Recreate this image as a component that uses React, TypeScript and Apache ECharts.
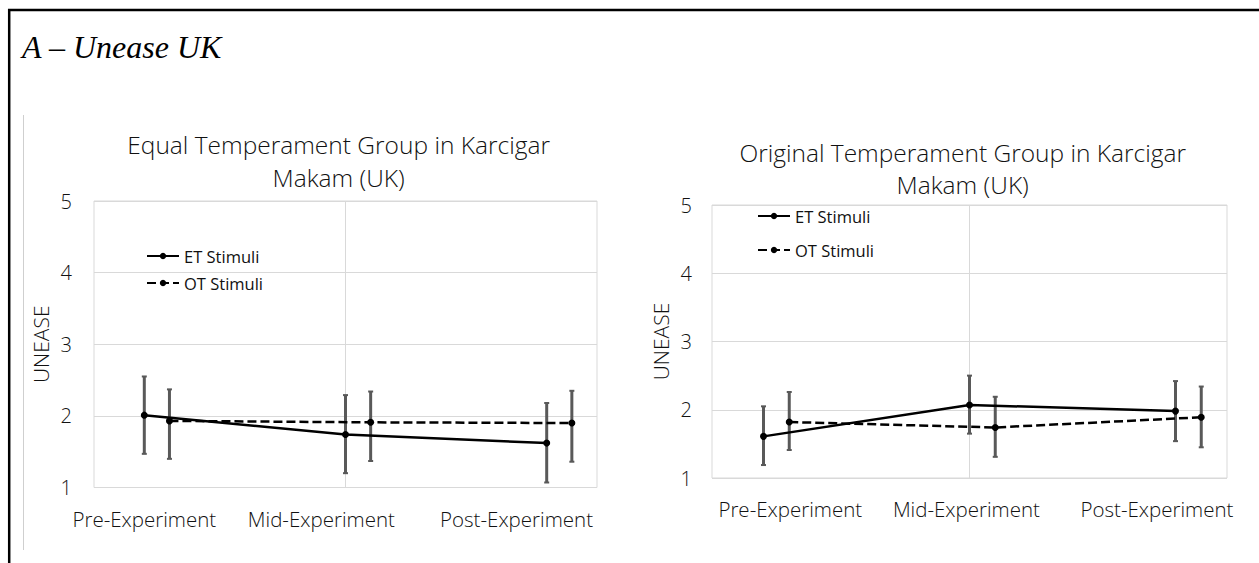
import React, { useEffect, useRef } from 'react';
import * as echarts from 'echarts';

// ---------- data ----------
const categories = ['Pre-Experiment', 'Mid-Experiment', 'Post-Experiment'];
const seriesNames = ['ET Stimuli', 'OT Stimuli'];
const yTicks = [1, 2, 3, 4, 5];
const chartTitles = [
  'Equal Temperament Group in Karcigar\nMakam (UK)',
  'Original Temperament Group in Karcigar\nMakam (UK)',
];
const yAxisName = 'UNEASE';
const panelTitle = 'A \u2013 Unease UK';

// Equal Temperament group
const etMeanEqual = [2.01, 1.74, 1.62];
const etLowEqual = [1.47, 1.2, 1.07];
const etHighEqual = [2.55, 2.29, 2.18];
const otMeanEqual = [1.93, 1.91, 1.9];
const otLowEqual = [1.4, 1.37, 1.36];
const otHighEqual = [2.37, 2.34, 2.35];

// Original Temperament group
const etMeanOrig = [1.61, 2.07, 1.98];
const etLowOrig = [1.19, 1.65, 1.54];
const etHighOrig = [2.05, 2.5, 2.42];
const otMeanOrig = [1.82, 1.74, 1.89];
const otLowOrig = [1.41, 1.31, 1.45];
const otHighOrig = [2.26, 2.19, 2.34];

// ---------- layout ----------
const FONT = "'Open Sans', 'Noto Sans', sans-serif";
const TEXT = '#111111';
const GRID_LINE = '#d9d9d9';
const ERR = '#595959';
const OT_OFFSET = 0.125;
const labelPosLeft = [1.0, 1.88, 2.85];
const labelPosRight = [1.13, 1.985, 2.91];

const panels = [
  {
    grid: { left: 94, top: 201, width: 503, height: 286.5 },
    title: { left: 338.6, top: 128, lineHeight: 33 },
    legend: { left: 146, top: 247, itemGap: 9 },
    nameGap: 43,
    yLabelMargin: 22,
    xLabelMargin: 21,
    labelPos: labelPosLeft,
    et: [etMeanEqual, etLowEqual, etHighEqual],
    ot: [otMeanEqual, otLowEqual, otHighEqual],
  },
  {
    grid: { left: 712, top: 205, width: 515, height: 273 },
    title: { left: 962.7, top: 136.5, lineHeight: 32 },
    legend: { left: 757, top: 207, itemGap: 16 },
    nameGap: 41,
    yLabelMargin: 20,
    xLabelMargin: 20,
    labelPos: labelPosRight,
    et: [etMeanOrig, etLowOrig, etHighOrig],
    ot: [otMeanOrig, otLowOrig, otHighOrig],
  },
];

const errorRender = (params: any, api: any) => {
  const x = api.value(0);
  const lo = api.value(1);
  const hi = api.value(2);
  const top = api.coord([x, hi]);
  const bot = api.coord([x, lo]);
  const cw = 2.5;
  const style = { stroke: ERR, lineWidth: 3 };
  return {
    type: 'group',
    children: [
      { type: 'line', shape: { x1: top[0], y1: top[1], x2: bot[0], y2: bot[1] }, style },
      { type: 'line', shape: { x1: top[0] - cw, y1: top[1], x2: top[0] + cw, y2: top[1] }, style: { stroke: ERR, lineWidth: 2 } },
      { type: 'line', shape: { x1: bot[0] - cw, y1: bot[1], x2: bot[0] + cw, y2: bot[1] }, style: { stroke: ERR, lineWidth: 2 } },
    ],
  };
};

function buildOption() {
  const grids: any[] = [];
  const xAxes: any[] = [];
  const yAxes: any[] = [];
  const titles: any[] = [];
  const legends: any[] = [];
  const series: any[] = [];

  panels.forEach((p, gi) => {
    grids.push({ ...p.grid, show: true, borderColor: GRID_LINE, borderWidth: 1, containLabel: false });
    xAxes.push({
      type: 'value',
      gridIndex: gi,
      min: 0.75,
      max: 3.25,
      axisLine: { show: false },
      axisTick: { show: false },
      splitLine: { show: false },
      axisLabel: {
        customValues: p.labelPos,
        margin: p.xLabelMargin,
        fontFamily: FONT,
        fontSize: 20.5,
        fontWeight: 300,
        color: TEXT,
        formatter: (v: number) => {
          const i = p.labelPos.findIndex((q) => Math.abs(q - v) < 1e-6);
          return i >= 0 ? categories[i] : '';
        },
      },
    });
    yAxes.push({
      type: 'value',
      gridIndex: gi,
      min: yTicks[0],
      max: yTicks[yTicks.length - 1],
      interval: 1,
      name: yAxisName,
      nameLocation: 'middle',
      nameGap: p.nameGap,
      nameTextStyle: { fontFamily: FONT, fontSize: 21, fontWeight: 300, color: TEXT },
      axisLine: { show: false },
      axisTick: { show: false },
      splitLine: { lineStyle: { color: GRID_LINE, width: 1 } },
      axisLabel: { margin: p.yLabelMargin, fontFamily: FONT, fontSize: 20, fontWeight: 300, color: TEXT },
    });
    titles.push({
      text: chartTitles[gi],
      left: p.title.left,
      top: p.title.top,
      textAlign: 'center',
      padding: 0,
      textStyle: { fontFamily: FONT, fontSize: 24.5, fontWeight: 300, color: TEXT, lineHeight: p.title.lineHeight },
    });
    legends.push({
      data: seriesNames,
      orient: 'vertical',
      left: p.legend.left,
      top: p.legend.top,
      itemGap: p.legend.itemGap,
      itemWidth: 32,
      itemHeight: 8,
      padding: 0,
      selectedMode: false,
      textStyle: { fontFamily: FONT, fontSize: 16.5, color: '#111', lineHeight: 18 },
    });

    const [etM, etL, etH] = p.et;
    const [otM, otL, otH] = p.ot;

    series.push({
      type: 'custom',
      name: 'etErr' + gi,
      xAxisIndex: gi,
      yAxisIndex: gi,
      renderItem: errorRender,
      encode: { x: 0, y: [1, 2] },
      data: etM.map((_, i) => [i + 1, etL[i], etH[i]]),
      z: 2,
      silent: true,
    });
    series.push({
      type: 'custom',
      name: 'otErr' + gi,
      xAxisIndex: gi,
      yAxisIndex: gi,
      renderItem: errorRender,
      encode: { x: 0, y: [1, 2] },
      data: otM.map((_, i) => [i + 1 + OT_OFFSET, otL[i], otH[i]]),
      z: 2,
      silent: true,
    });
    series.push({
      type: 'line',
      name: seriesNames[0],
      xAxisIndex: gi,
      yAxisIndex: gi,
      data: etM.map((v, i) => [i + 1, v]),
      symbol: 'circle',
      symbolSize: 7,
      itemStyle: { color: '#000' },
      lineStyle: { color: '#000', width: 2.5, type: 'solid' },
      z: 5,
      markLine: {
        silent: true,
        symbol: 'none',
        label: { show: false },
        lineStyle: { color: GRID_LINE, width: 1, type: 'solid' },
        data: [{ xAxis: 2 }],
        z: 1,
      },
    });
    series.push({
      type: 'line',
      name: seriesNames[1],
      xAxisIndex: gi,
      yAxisIndex: gi,
      data: otM.map((v, i) => [i + 1 + OT_OFFSET, v]),
      symbol: 'circle',
      symbolSize: 7,
      itemStyle: { color: '#000' },
      lineStyle: { color: '#000', width: 2.5, type: [9, 4] },
      z: 5,
    });
  });

  return {
    animation: false,
    backgroundColor: '#ffffff',
    title: titles,
    legend: legends,
    grid: grids,
    xAxis: xAxes,
    yAxis: yAxes,
    series,
    graphic: [
      { type: 'line', shape: { x1: 8, y1: 10, x2: 1259, y2: 10 }, style: { stroke: '#000', lineWidth: 2.5 }, silent: true },
      { type: 'line', shape: { x1: 9.2, y1: 9, x2: 9.2, y2: 563 }, style: { stroke: '#000', lineWidth: 2.5 }, silent: true },
      { type: 'line', shape: { x1: 23.5, y1: 115, x2: 23.5, y2: 550 }, style: { stroke: '#cfcfcf', lineWidth: 1 }, silent: true },
      {
        type: 'text',
        x: 22,
        y: 31,
        style: {
          text: panelTitle,
          font: "italic 32px 'Liberation Serif', 'DejaVu Serif', serif",
          fill: '#000',
          textVerticalAlign: 'top',
        },
        silent: true,
      },
    ],
  };
}

export default function App() {
  const ref = useRef<HTMLDivElement>(null);
  useEffect(() => {
    if (!ref.current) return;
    const chart = echarts.init(ref.current, undefined, { renderer: 'svg' });
    chart.setOption(buildOption() as any);
    return () => chart.dispose();
  }, []);
  return (
    <div
      ref={ref}
      style={{ position: 'absolute', left: 0, top: 0, width: 1259, height: 563, background: '#fff' }}
    />
  );
}
